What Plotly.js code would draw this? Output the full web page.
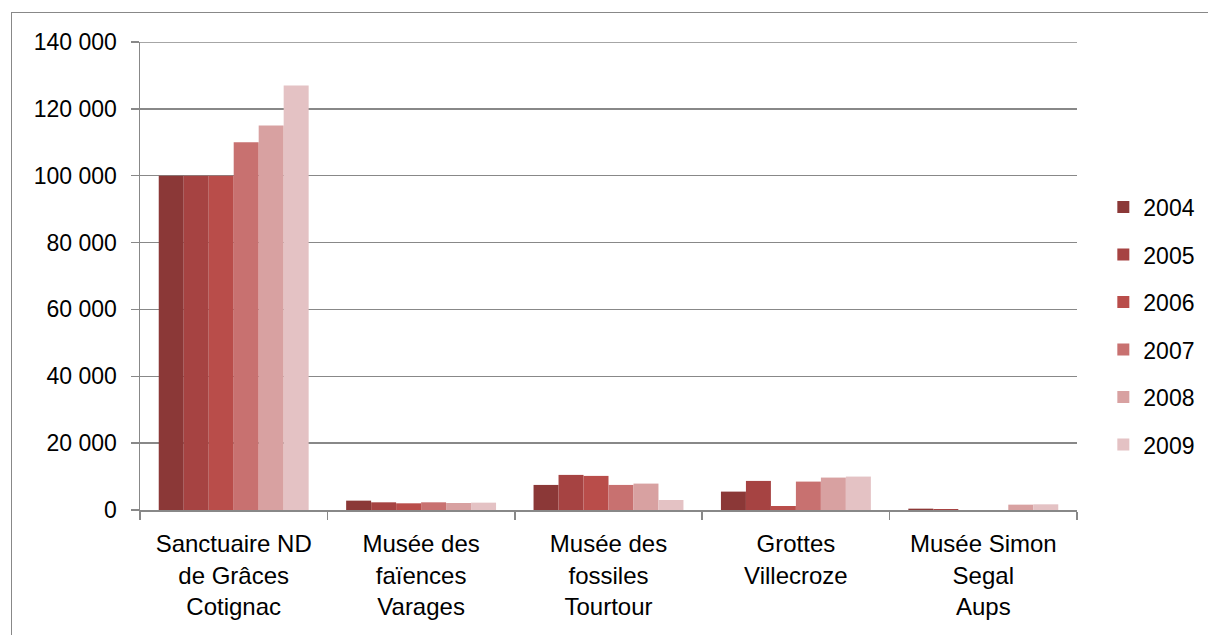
<!DOCTYPE html>
<html>
<head>
<meta charset="utf-8">
<script src="https://cdn.plot.ly/plotly-3.0.1.min.js"></script>
<style>
  html, body { margin: 0; padding: 0; background: #fff; overflow: hidden; }
  #frame { position: absolute; left: 11px; top: 12px; width: 1400px; height: 800px; border: 1px solid #888; box-sizing: border-box; pointer-events: none; }
  #chart { position: absolute; left: 0; top: 0; width: 1208px; height: 635px; }
</style>
</head>
<body>
<div id="chart"></div>
<div id="frame"></div>
<script>
const categories = [
  "Sanctuaire ND<br>de Grâces<br>Cotignac",
  "Musée des<br>faïences<br>Varages",
  "Musée des<br>fossiles<br>Tourtour",
  "Grottes<br>Villecroze",
  "Musée Simon<br>Segal<br>Aups"
];
const years = ["2004", "2005", "2006", "2007", "2008", "2009"];
const v2004 = [100000, 2800, 7500, 5500, 400];
const v2005 = [100000, 2300, 10500, 8700, 300];
const v2006 = [100000, 2000, 10200, 1200, 0];
const v2007 = [110000, 2300, 7500, 8500, 0];
const v2008 = [115000, 2100, 7900, 9700, 1600];
const v2009 = [127000, 2200, 3000, 10000, 1700];
const seriesValues = [v2004, v2005, v2006, v2007, v2008, v2009];
const colors = ["#8B3837", "#A64342", "#B94D4A", "#C87170", "#D8A1A1", "#E4C2C4"];
const yMax = 140000;

const FONT = "Liberation Sans, Arial, sans-serif";

const traces = years.map((y, i) => ({
  type: "bar",
  name: y,
  x: categories,
  y: seriesValues[i],
  marker: { color: colors[i], line: { width: 0 } },
  legendgroup: y,
  hoverinfo: "x+y+name"
}));

const layout = {
  width: 1208,
  height: 635,
  margin: { l: 140, r: 131, t: 42, b: 125, pad: 0, autoexpand: false },
  paper_bgcolor: "#fff",
  plot_bgcolor: "#fff",
  separators: ", ",
  font: { family: FONT, size: 23, color: "#000" },
  barmode: "group",
  bargap: 0.2,
  bargroupgap: 0,
  showlegend: true,
  legend: {
    x: 1.0281, xanchor: "left",
    y: 0.393, yanchor: "middle",
    traceorder: "grouped",
    tracegroupgap: 14.6,
    font: { family: FONT, size: 23, color: "#000" },
    bgcolor: "rgba(0,0,0,0)"
  },
  shapes: [{
    type: "line", xref: "paper", x0: 0, x1: 1, yref: "y", y0: yMax, y1: yMax,
    line: { color: "#888", width: 1.5 }, layer: "below"
  }],
  xaxis: {
    type: "category",
    showline: true,
    linecolor: "#888",
    linewidth: 1.5,
    ticks: "outside",
    tickson: "boundaries",
    ticklen: 8,
    tickcolor: "#888",
    tickwidth: 1.5,
    showgrid: false,
    zeroline: false,
    ticklabelstandoff: 12,
    tickfont: { family: FONT, size: 24, color: "#000" },
    fixedrange: true
  },
  yaxis: {
    range: [0, yMax],
    dtick: 20000,
    tick0: 0,
    tickformat: ",d",
    showline: true,
    linecolor: "#888",
    linewidth: 1.5,
    ticks: "outside",
    ticklen: 8,
    tickcolor: "#888",
    tickwidth: 1.5,
    showgrid: true,
    gridcolor: "#888",
    gridwidth: 1.5,
    zeroline: false,
    ticklabelstandoff: 9,
    tickfont: { family: FONT, size: 23, color: "#000" },
    fixedrange: true
  }
};

Plotly.newPlot("chart", traces, layout, { displayModeBar: false, staticPlot: true });
</script>
</body>
</html>
